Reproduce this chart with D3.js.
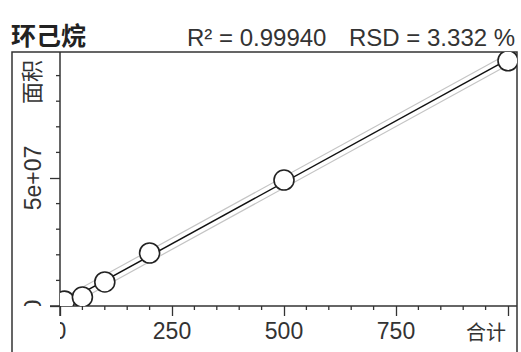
<!DOCTYPE html>
<html>
<head>
<meta charset="utf-8">
<script src="https://cdn.jsdelivr.net/npm/d3@7/dist/d3.min.js"></script>
<style>
  html, body { margin: 0; padding: 0; background: #fff; }
  svg { display: block; }
</style>
</head>
<body>
<svg id="chart" width="521" height="352"></svg>
<script>
// Calibration standards: concentration vs. peak area
const compound = "环己烷";
const concentrations = [10, 50, 100, 200, 500, 1000];
const areas = [1.9e6, 3.5e6, 9.4e6, 2.07e7, 4.92e7, 9.58e7];
const statsR2 = "R\u00B2 = 0.99940";
const statsRSD = "RSD = 3.332 %";
const xTitle = "合计";
const yTitle = "面积";
const xMajorTicks = [0, 250, 500, 750, 1000];
const xTickLabels = ["0", "250", "500", "750", ""];
const yMajorTicks = [0, 5e7];
const yTickLabels = ["0", "5e+07"];
const xMinorStep = 50;
const yMinorStep = 1e7;
const bandHalfWidth = 2.2e6;   // half-width of the prediction band (area units)

const svg = d3.select("#chart");
const font = "'Liberation Sans', Arial, sans-serif";
const ink = "#333";

const plot = { left: 60, right: 517, top: 52, bottom: 306 };
const x = d3.scaleLinear().domain([0, 1000]).range([60, 508]);
const y = d3.scaleLinear().domain([0, 1e8]).range([306, 50]);

// least-squares fit of area on concentration
const mx = d3.mean(concentrations), my = d3.mean(areas);
let sxy = 0, sxx = 0;
concentrations.forEach((c, i) => { sxy += (c - mx) * (areas[i] - my); sxx += (c - mx) ** 2; });
const slope = sxy / sxx, intercept = my - slope * mx;
const fit = c => intercept + slope * c;

const defs = svg.append("defs");
defs.append("clipPath").attr("id", "plotClip").append("rect")
  .attr("x", plot.left).attr("y", plot.top)
  .attr("width", plot.right - plot.left).attr("height", plot.bottom - plot.top);
defs.append("clipPath").attr("id", "xLabClip").append("rect")
  .attr("x", plot.left).attr("y", plot.bottom).attr("width", 450).attr("height", 60);
defs.append("clipPath").attr("id", "yLabClip").append("rect")
  .attr("x", 12).attr("y", plot.top).attr("width", 48).attr("height", plot.bottom - plot.top);

// header
svg.append("text").attr("x", 11).attr("y", 45)
  .attr("font-family", "'Noto Sans CJK SC', sans-serif").attr("font-weight", "bold")
  .attr("font-size", 25).attr("fill", "#222").text(compound);
svg.append("text").attr("x", 187).attr("y", 46)
  .attr("font-family", font).attr("font-size", 24).attr("fill", ink).text(statsR2);
svg.append("text").attr("x", 349).attr("y", 46)
  .attr("font-family", font).attr("font-size", 24).attr("fill", ink).text(statsRSD);

// frame
svg.append("path")
  .attr("d", `M12,352V${plot.top}H${plot.right}V352`)
  .attr("fill", "none").attr("stroke", ink).attr("stroke-width", 1.5);

// y axis: major ticks from d3.axisLeft, labels rotated and clipped to the label strip
const yAxis = d3.axisLeft(y).tickValues(yMajorTicks)
  .tickFormat((d, i) => yTickLabels[i]).tickSize(10).tickSizeOuter(0);
const gy = svg.append("g").attr("transform", `translate(${plot.left},0)`).call(yAxis);
gy.select(".domain").remove();
gy.selectAll(".tick line").attr("stroke", ink).attr("stroke-width", 1.3);
const gyLab = svg.append("g").attr("clip-path", "url(#yLabClip)");
gy.selectAll(".tick").each(function (d, i) {
  const tick = d3.select(this);
  tick.select("text").remove();
  gyLab.append("text")
    .attr("transform", `translate(${plot.left - 19},${y(d)}) rotate(-90)`)
    .attr("text-anchor", "middle")
    .attr("font-family", font).attr("font-size", 23).attr("fill", ink)
    .text(yTickLabels[i]);
});
svg.append("g").attr("transform", `translate(${plot.left},0)`)
  .selectAll("line").data(d3.range(yMinorStep, 1e8, yMinorStep).filter(v => !yMajorTicks.includes(v)))
  .join("line").attr("x1", -4).attr("x2", 0)
  .attr("y1", d => y(d)).attr("y2", d => y(d))
  .attr("stroke", ink).attr("stroke-width", 1.3);

// x axis: major ticks from d3.axisBottom, labels clipped at the origin
const xAxis = d3.axisBottom(x).tickValues(xMajorTicks)
  .tickFormat((d, i) => xTickLabels[i]).tickSize(10).tickSizeOuter(0);
const gx = svg.append("g").attr("transform", `translate(0,${plot.bottom})`).call(xAxis);
gx.select(".domain").remove();
gx.selectAll(".tick line").attr("stroke", ink).attr("stroke-width", 1.3);
const gxLab = svg.append("g").attr("clip-path", "url(#xLabClip)");
gx.selectAll(".tick").each(function (d, i) {
  d3.select(this).select("text").remove();
  gxLab.append("text")
    .attr("x", x(d)).attr("y", 339)
    .attr("text-anchor", "middle")
    .attr("font-family", font).attr("font-size", 23).attr("fill", ink)
    .text(xTickLabels[i]);
});
svg.append("g").attr("transform", `translate(0,${plot.bottom})`)
  .selectAll("line").data(d3.range(xMinorStep, 1000, xMinorStep).filter(v => !xMajorTicks.includes(v)))
  .join("line").attr("x1", d => x(d)).attr("x2", d => x(d))
  .attr("y1", 0).attr("y2", 4)
  .attr("stroke", ink).attr("stroke-width", 1.3);

// axis lines, extended a little past the origin
svg.append("line").attr("x1", plot.left).attr("x2", plot.left)
  .attr("y1", plot.top).attr("y2", plot.bottom + 10)
  .attr("stroke", ink).attr("stroke-width", 1.5);
svg.append("line").attr("x1", plot.left - 10).attr("x2", plot.right)
  .attr("y1", plot.bottom).attr("y2", plot.bottom)
  .attr("stroke", ink).attr("stroke-width", 1.5);

// axis titles
svg.append("text").attr("x", 506).attr("y", 340).attr("text-anchor", "end")
  .attr("font-family", "'Noto Sans CJK SC', sans-serif").attr("font-size", 20)
  .attr("fill", ink).text(xTitle);
svg.append("g").attr("clip-path", "url(#yLabClip)")
  .append("text").attr("transform", "translate(40,104) rotate(-90)")
  .attr("font-family", "'Noto Sans CJK SC', sans-serif").attr("font-size", 22)
  .attr("fill", ink).text(yTitle);

// fit line and band
const plotG = svg.append("g").attr("clip-path", "url(#plotClip)");
const xs = [0, 1000];
const line = d3.line().x(d => x(d[0])).y(d => y(d[1]));
[bandHalfWidth, -bandHalfWidth].forEach(off => {
  plotG.append("path").datum(xs.map(c => [c, fit(c) + off]))
    .attr("d", line).attr("fill", "none").attr("stroke", "#c4c4c4").attr("stroke-width", 1.2);
});
plotG.append("path").datum(xs.map(c => [c, fit(c)]))
  .attr("d", line).attr("fill", "none").attr("stroke", "#111").attr("stroke-width", 1.5);

// standards
plotG.selectAll("circle").data(concentrations)
  .join("circle")
  .attr("cx", d => x(d)).attr("cy", (d, i) => y(areas[i])).attr("r", 10)
  .attr("fill", "#fff").attr("stroke", "#222").attr("stroke-width", 1.6);
</script>
</body>
</html>
